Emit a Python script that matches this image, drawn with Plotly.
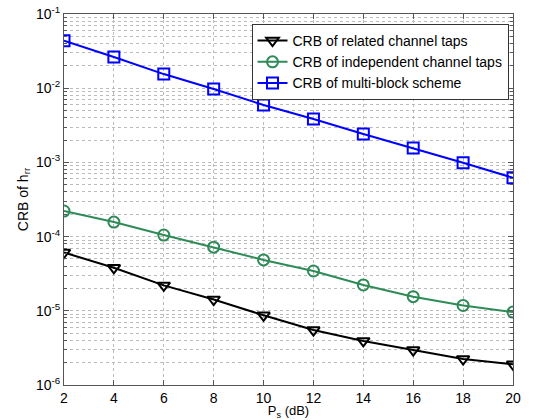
import plotly.graph_objects as go

ps_db = [2, 4, 6, 8, 10, 12, 14, 16, 18, 20]
crb_related = [6.1e-5, 3.8e-5, 2.2e-5, 1.42e-5, 8.7e-6, 5.5e-6, 3.92e-6, 2.96e-6, 2.24e-6, 1.9e-6]
crb_independent = [2.21e-4, 1.57e-4, 1.05e-4, 7.2e-5, 4.85e-5, 3.44e-5, 2.23e-5, 1.55e-5, 1.18e-5, 9.6e-6]
crb_multiblock = [0.0435, 0.0263, 0.0155, 0.00975, 0.00594, 0.00385, 0.00242, 0.00156, 0.00099, 0.00062]

names = ["CRB of related channel taps", "CRB of independent channel taps", "CRB of multi-block scheme"]
colors = ["#000000", "#2e8b57", "#0000ff"]
symbols = ["triangle-down-open", "circle-open", "square-open"]

fig = go.Figure()
for y, n, c, s in zip([crb_related, crb_independent, crb_multiblock], names, colors, symbols):
    fig.add_trace(go.Scatter(x=ps_db, y=y, name=n, mode="lines+markers",
                             line=dict(color=c, width=2),
                             marker=dict(symbol=s, size=11, color=c, line=dict(width=2, color=c))))

decade_vals = [1e-6, 1e-5, 1e-4, 1e-3, 1e-2, 1e-1]
decade_text = ["10<sup>-6</sup>", "10<sup>-5</sup>", "10<sup>-4</sup>",
               "10<sup>-3</sup>", "10<sup>-2</sup>", "10<sup>-1</sup>"]

fig.update_layout(
    width=533, height=420,
    margin=dict(l=64, r=20, t=14, b=35, autoexpand=False),
    paper_bgcolor="white", plot_bgcolor="white",
    font=dict(family="Liberation Sans, Arial, sans-serif", size=13, color="black"),
    legend=dict(x=0.99, y=0.973, xanchor="right", yanchor="top",
                bgcolor="white", bordercolor="#333333", borderwidth=1,
                font=dict(size=14), tracegroupgap=0, itemwidth=30),
    showlegend=True,
)
fig.update_xaxes(range=[2, 20], tickvals=ps_db, showgrid=True, gridcolor="#bbbbbb", griddash="dot",
                 gridwidth=1, showline=True, linecolor="#555555", mirror="ticks",
                 ticks="inside", ticklen=5, tickcolor="#555555", zeroline=False,
                 tickfont=dict(size=14), automargin=False,
                 title=dict(text="P<sub>s</sub> (dB)", standoff=2, font=dict(size=13)))
fig.update_yaxes(type="log", range=[-6, -1], tickvals=decade_vals, ticktext=decade_text,
                 showgrid=True, gridcolor="#bbbbbb", griddash="dot", gridwidth=1,
                 showline=True, linecolor="#555555", mirror="ticks",
                 ticks="inside", ticklen=5, tickcolor="#555555", zeroline=False,
                 tickfont=dict(size=14), automargin=False,
                 minor=dict(dtick="D1", showgrid=True, gridcolor="#bbbbbb", griddash="dot",
                            gridwidth=1, ticks="inside", ticklen=3, tickcolor="#555555"),
                 title=dict(text="CRB of h<sub>rr</sub>", standoff=4, font=dict(size=14)))

fig.write_html("out.html")
